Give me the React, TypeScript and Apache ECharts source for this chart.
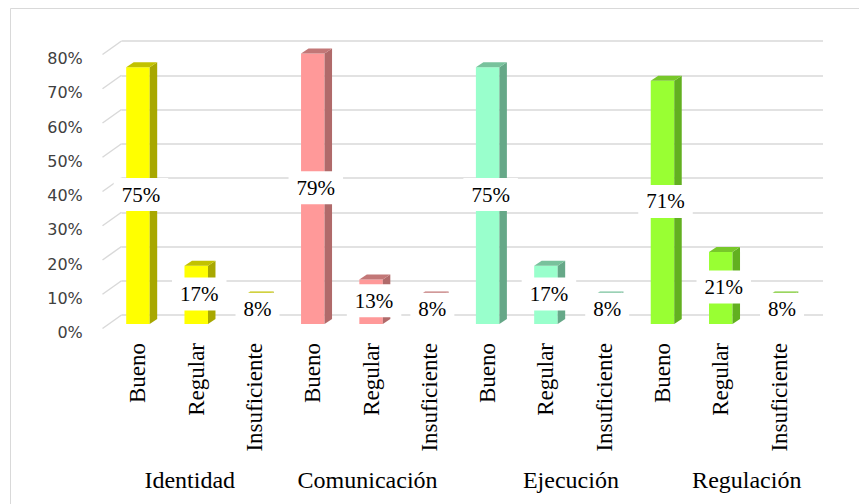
import React, { useEffect, useRef } from "react";
import * as echarts from "echarts";

// ---- data ----
const groups = ["Identidad", "Comunicación", "Ejecución", "Regulación"];
const levels = ["Bueno", "Regular", "Insuficiente"];
const identidad = [75, 17, 8];
const comunicacion = [79, 13, 8];
const ejecucion = [75, 17, 8];
const regulacion = [71, 21, 8];
const yTicks = [0, 10, 20, 30, 40, 50, 60, 70, 80];

// ---- styles / layout ----
const palette = [
  { front: "#FFFF00", side: "#A8A800", top: "#C2C200" },
  { front: "#FF9999", side: "#B06A6A", top: "#C27777" },
  { front: "#99FFCC", side: "#66A888", top: "#78C29C" },
  { front: "#99FF33", side: "#62B020", top: "#78C82A" },
];
const groupLabelShift = [-6.5, -3.5, 25, 26];
const GRID_COLOR = "#d9d9d9";
const SERIF = '"Liberation Serif", "Times New Roman", serif';

export default function App() {
  const ref = useRef<HTMLDivElement>(null);

  useEffect(() => {
    if (!ref.current) return;
    const chart = echarts.init(ref.current, null, { renderer: "svg" });

    const seriesValues = [identidad, comunicacion, ejecucion, regulacion];
    const categories: string[] = [];
    const barData: number[][] = [];
    groups.forEach((_, gi) => {
      levels.forEach((lv, li) => {
        categories.push(lv);
        barData.push([gi * 3 + li, seriesValues[gi][li], gi]);
      });
    });

    const rich: Record<string, any> = {};
    groups.forEach((_, i) => {
      const s = groupLabelShift[i];
      rich["g" + i] = {
        fontFamily: SERIF,
        fontSize: 24,
        color: "#000",
        padding: s > 0 ? [0, 0, 0, 2 * s] : [0, -2 * s, 0, 0],
      };
    });

    const option: any = {
      animation: false,
      backgroundColor: "#fff",
      grid: [
        { left: 108.8, right: 50.8, top: 50, bottom: 180 },
        { left: 121.5, right: 36, top: 41, bottom: 189 },
      ],
      xAxis: [
        {
          type: "category",
          gridIndex: 0,
          data: categories,
          axisLine: { show: false },
          axisTick: { show: false },
          splitLine: { show: false },
          axisLabel: {
            interval: 0,
            rotate: 90,
            margin: 19,
            fontFamily: SERIF,
            fontSize: 23,
            color: "#000",
          },
        },
        {
          type: "category",
          gridIndex: 0,
          position: "bottom",
          data: groups,
          axisLine: { show: false },
          axisTick: { show: false },
          splitLine: { show: false },
          axisLabel: {
            interval: 0,
            margin: 144,
            fontFamily: SERIF,
            fontSize: 24,
            color: "#000",
            formatter: (val: string, idx: number) => `{g${idx}|${val}}`,
            rich,
          },
        },
        {
          type: "value",
          gridIndex: 1,
          min: 0,
          max: 1,
          show: false,
        },
      ],
      yAxis: [
        {
          type: "value",
          gridIndex: 0,
          min: 0,
          max: 80,
          interval: 10,
          axisLine: { show: false },
          axisTick: { show: false },
          splitLine: { show: false },
          axisLabel: {
            margin: 26,
            formatter: "{value}%",
            fontFamily: "DejaVu Sans",
            fontSize: 16,
            lineHeight: 17,
            color: "#404040",
            verticalAlign: "top",
          },
        },
        {
          type: "value",
          gridIndex: 1,
          min: 0,
          max: 80,
          interval: 10,
          axisLine: { show: false },
          axisTick: { show: false },
          axisLabel: { show: false },
          splitLine: { show: true, lineStyle: { color: GRID_COLOR, width: 1.5 } },
        },
      ],
      series: [
        {
          type: "custom",
          xAxisIndex: 0,
          yAxisIndex: 0,
          data: yTicks.map((t) => [0, t]),
          encode: { x: 0, y: 1 },
          silent: true,
          z: 1,
          renderItem: (params: any, api: any) => {
            const v = api.value(1);
            const p = api.coord([0, v]);
            const x0 = params.coordSys.x;
            return {
              type: "line",
              shape: { x1: x0 - 6.3, y1: p[1] + 4.5, x2: x0 + 12.7, y2: p[1] - 9 },
              style: { stroke: GRID_COLOR, lineWidth: 1.5 },
            };
          },
        },
        {
          type: "custom",
          xAxisIndex: 0,
          yAxisIndex: 0,
          data: barData,
          encode: { x: 0, y: 1 },
          z: 3,
          renderItem: (params: any, api: any) => {
            const cat = api.value(0);
            const v = api.value(1);
            const g = api.value(2);
            const top = api.coord([cat, v]);
            const base = api.coord([cat, 0]);
            const cx = top[0];
            const hw = 11.75;
            const dx = 7.5;
            const dy = -5;
            const c = palette[g];
            return {
              type: "group",
              children: [
                {
                  type: "rect",
                  shape: { x: cx - hw, y: top[1], width: 2 * hw, height: base[1] - top[1] },
                  style: { fill: c.front },
                },
                {
                  type: "polygon",
                  shape: {
                    points: [
                      [cx + hw, top[1]],
                      [cx + hw + dx, top[1] + dy],
                      [cx + hw + dx, base[1] + dy],
                      [cx + hw, base[1]],
                    ],
                  },
                  style: { fill: c.side },
                },
                {
                  type: "polygon",
                  shape: {
                    points: [
                      [cx - hw, top[1]],
                      [cx - hw + dx, top[1] + dy],
                      [cx + hw + dx, top[1] + dy],
                      [cx + hw, top[1]],
                    ],
                  },
                  style: { fill: c.top },
                },
                {
                  type: "text",
                  x: cx + 3,
                  y: (top[1] + base[1]) / 2 - 1,
                  style: {
                    text: v + "%",
                    align: "center",
                    verticalAlign: "middle",
                    font: '21px "Liberation Serif", "Times New Roman", serif',
                    lineHeight: 21,
                    fill: "#000",
                    backgroundColor: "#fff",
                    padding: [7, 8, 5, 8],
                  },
                },
              ],
            };
          },
        },
      ],
      graphic: [
        {
          type: "rect",
          silent: true,
          shape: { x: 10.5, y: 8.5, width: 1000, height: 1000 },
          style: { fill: "none", stroke: GRID_COLOR, lineWidth: 1 },
          z: 0,
        },
      ],
    };

    chart.setOption(option);
    return () => chart.dispose();
  }, []);

  return (
    <div
      ref={ref}
      style={{ position: "fixed", left: 0, top: 0, width: 859, height: 504 }}
    />
  );
}
